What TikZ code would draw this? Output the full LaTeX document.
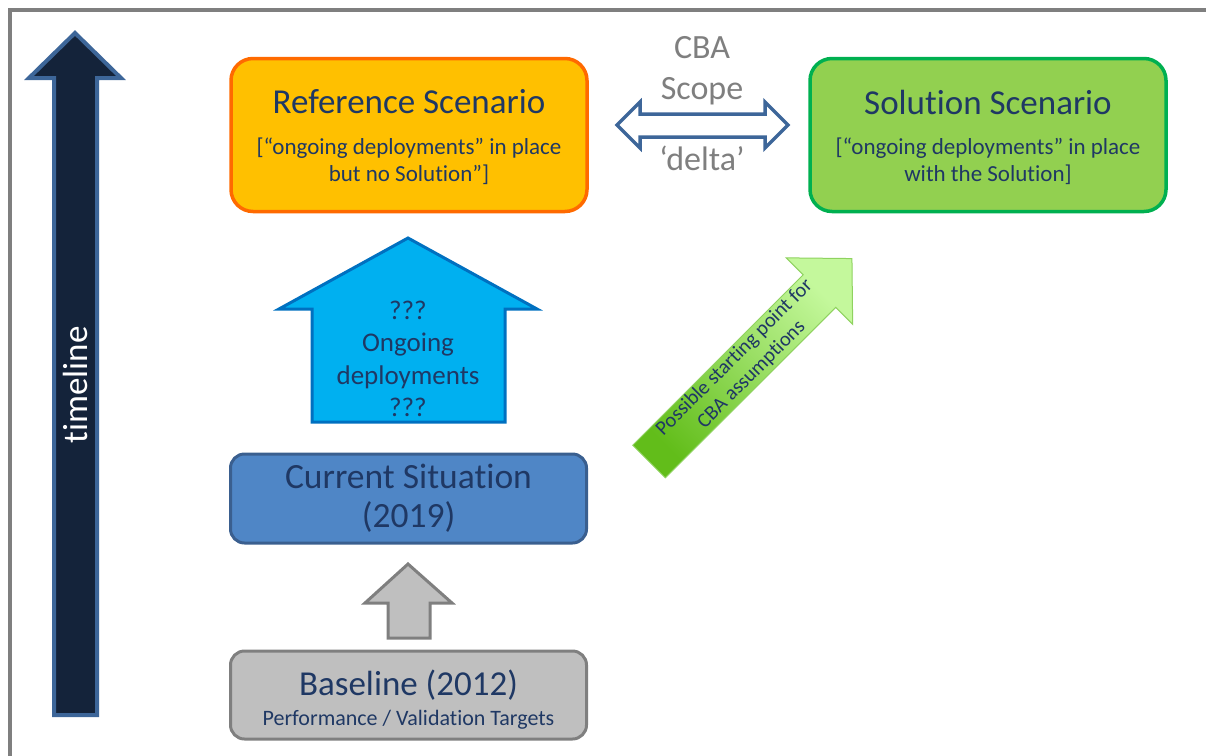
\documentclass[tikz,border=0pt]{standalone}
\usepackage{fontspec}
\setmainfont[Ligatures=NoCommon]{Carlito}
\usetikzlibrary{positioning}

\definecolor{navytext}{HTML}{1F3864}
\definecolor{framegray}{HTML}{7F7F7F}
\definecolor{refyellow}{HTML}{FFC000}
\definecolor{reforange}{HTML}{FF6A00}
\definecolor{solgreen}{HTML}{92D050}
\definecolor{solborder}{HTML}{00B050}
\definecolor{curblue}{HTML}{4F86C6}
\definecolor{curborder}{HTML}{3A5F8F}
\definecolor{basegray}{HTML}{BFBFBF}
\definecolor{baseborder}{HTML}{7F7F7F}
\definecolor{ongoingfill}{HTML}{00B0F0}
\definecolor{ongoingborder}{HTML}{0070C0}
\definecolor{scopeblue}{HTML}{3D6699}
\definecolor{timefill}{HTML}{14233A}
\definecolor{darkgreen}{HTML}{62BD1A}
\definecolor{lightgreen}{HTML}{C4F89C}
\definecolor{greenedge}{HTML}{8FD260}

\tikzset{
  box/.style={rounded corners=22pt, line width=3.5pt, minimum width=356pt, inner sep=0pt},
  titletext/.style={text=navytext, font=\fontsize{35}{40}\selectfont},
  subtext/.style={text=navytext, align=center, font=\fontsize{23}{27}\selectfont},
  graytext/.style={text=framegray, font=\fontsize{34}{40}\selectfont},
}

\begin{document}
\begin{tikzpicture}[x=1pt,y=-1pt]
\clip (0,0) rectangle (1206,755);

% outer frame
\draw[framegray, line width=4pt] (10,10) rectangle (1240,790);

% timeline
\filldraw[fill=timefill, draw=scopeblue, line width=4pt]
  (75,33) -- (121,78) -- (97,78) -- (97,715) -- (54,715) -- (54,78) -- (29,78) -- cycle;
\node[rotate=90, text=white, font=\fontsize{35}{40}\selectfont] (timeline) at (75,385) {timeline};

% reference scenario
\node[box, fill=refyellow, draw=reforange, minimum height=153pt] (ref) at (409,135) {};
\node[titletext] (reftitle) at (409,102) {Reference Scenario};
\node[subtext] (refsub) at (409,161) {[“ongoing deployments” in place\\but no Solution”]};

% solution scenario
\node[box, fill=solgreen, draw=solborder, minimum height=153pt] (sol) at (988,135) {};
\node[titletext] (soltitle) at (988,102) {Solution Scenario};
\node[subtext] (solsub) at (988,161) {[“ongoing deployments” in place\\with the Solution]};

% CBA scope
\filldraw[fill=white, draw=scopeblue, line width=3.5pt]
  (617,125) -- (640,102) -- (640,114) -- (765,114) -- (765,102) -- (788,125)
  -- (765,148) -- (765,137) -- (640,137) -- (640,148) -- cycle;
\node[graytext] (cba) at (702,48) {CBA};
\node[graytext] (scope) at (702,91) {Scope};
\node[graytext] (delta) at (702,158) {‘delta’};

% ongoing deployments
\filldraw[fill=ongoingfill, draw=ongoingborder, line width=3pt]
  (408,238) -- (537,309) -- (505,309) -- (505,422) -- (312,422) -- (312,309) -- (279,309) -- cycle;
\node[text=navytext, align=center, font=\fontsize{27}{32.3}\selectfont] (ongoing) at (408,359)
  {???\\Ongoing\\deployments\\???};

% current situation
\node[box, rounded corners=14pt, fill=curblue, draw=curborder, line width=3pt, minimum height=89pt] (cur) at (408.5,498.5) {};
\node[text=navytext, align=center, font=\fontsize{35.5}{39}\selectfont] (curtext) at (408.5,498) {Current Situation\\(2019)};

% baseline arrow
\filldraw[fill=basegray, draw=baseborder, line width=3pt]
  (408,564) -- (452,603) -- (430,603) -- (430,638) -- (388,638) -- (388,603) -- (365,603) -- cycle;

% baseline
\node[box, rounded corners=14pt, fill=basegray, draw=baseborder, line width=3pt, minimum height=88pt] (base) at (408.5,695) {};
\node[text=navytext, font=\fontsize{35}{40}\selectfont] (basetitle) at (408.5,685) {Baseline (2012)};
\node[text=navytext, font=\fontsize{22}{25}\selectfont] (basesub) at (408.5,720) {Performance / Validation Targets};

% possible starting point
\begin{scope}[shift={(649,461.5)}, rotate=45]
\shade[draw=greenedge, line width=1pt, top color=lightgreen, bottom color=darkgreen, shading angle=-45]
  (0,-23) -- (241,-23) -- (241,-47) -- (287,0) -- (241,47) -- (241,23) -- (0,23) -- cycle;
\node[transform shape, text=navytext, align=center, inner sep=0pt, font=\fontsize{20.5}{24}\selectfont] (cbastart) at (134,-1)
  {Possible starting point for\\CBA assumptions};
\end{scope}

\end{tikzpicture}
\end{document}
